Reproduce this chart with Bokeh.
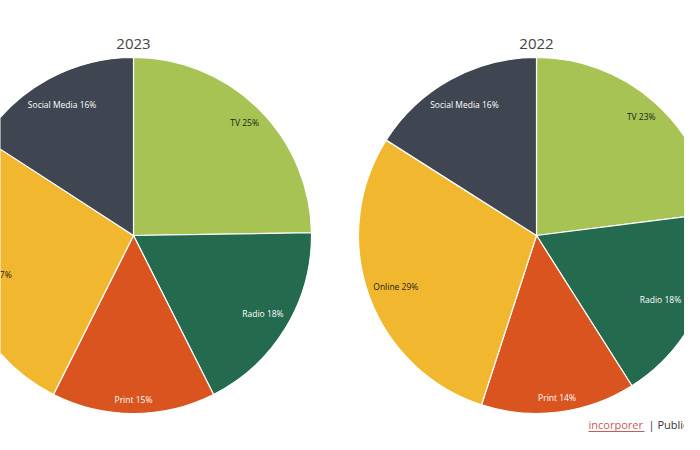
import numpy as np
from bokeh.plotting import figure
from bokeh.models import Range1d, ColumnDataSource
from bokeh.core.properties import value
from bokeh.embed import file_html
from bokeh.resources import INLINE

# ---- data ----
categories = ["TV", "Radio", "Print", "Online", "Social Media"]
values_2023 = [25, 18, 15, 27, 16]
values_2022 = [23, 18, 14, 29, 16]
years = ["2023", "2022"]
footer_link = "incorporer"
footer_source = "| Publicom"

# ---- styles / layout ----
colors = ["#a6c353", "#236a4f", "#d9541f", "#f0b72f", "#3f4651"]
label_colors = ["#1e1e1e", "#ffffff", "#ffffff", "#1e1e1e", "#ffffff"]
label_r = [0.89, 0.85, 0.92, 0.84, 0.84]
FONT = "Open Sans"
W, H = 684, 434
SH = 450  # screen height used to flip y
centers = [(133, SH - 235), (536, SH - 235)]
R = 178

p = figure(width=W, height=H, x_range=Range1d(0, W), y_range=Range1d(SH - H, SH),
           output_backend="svg", toolbar_location=None, min_border=0,
           x_axis_type=None, y_axis_type=None)
p.grid.visible = False
p.outline_line_color = None
p.background_fill_color = "white"
p.border_fill_color = "white"

for (cx, cy), year, vals in zip(centers, years, [values_2023, values_2022]):
    v = np.array(vals, dtype=float)
    frac = v / v.sum()
    cum_end = np.cumsum(frac)
    cum_start = cum_end - frac
    start = np.pi / 2 - 2 * np.pi * cum_end
    end = np.pi / 2 - 2 * np.pi * cum_start
    mid = (start + end) / 2
    rr = np.array(label_r) * R
    lx = cx + rr * np.cos(mid)
    lx = np.minimum(lx, W - 24)  # keep labels inside the right edge
    src = ColumnDataSource(dict(
        start=start, end=end, color=colors,
        lx=lx, ly=cy + rr * np.sin(mid),
        label=[f"{c} {int(x)}%" for c, x in zip(categories, vals)],
        lcolor=label_colors,
    ))
    p.wedge(x=cx, y=cy, radius=R, start_angle="start", end_angle="end",
            fill_color="color", line_color="white", line_width=1.2, source=src)
    p.text(x="lx", y="ly", text="label", text_color="lcolor", source=src,
           text_font=value(FONT), text_font_size="8.5px",
           text_align="center", text_baseline="middle")
    p.text(x=[cx], y=[SH - 43], text=[year], text_font=value(FONT), text_font_size="15px",
           text_color="#444444", text_align="center", text_baseline="middle")

# footer
p.text(x=[588], y=[SH - 424], text=[footer_link], text_font=value(FONT), text_font_size="11px",
       text_color="#c85a5a", text_align="left", text_baseline="middle")
p.segment(x0=[588], y0=[SH - 431], x1=[644], y1=[SH - 431], line_color="#c85a5a", line_width=1)
p.text(x=[648], y=[SH - 424], text=[footer_source], text_font=value(FONT), text_font_size="11px",
       text_color="#333333", text_align="left", text_baseline="middle")

open("out.html", "w").write(file_html(p, INLINE))
